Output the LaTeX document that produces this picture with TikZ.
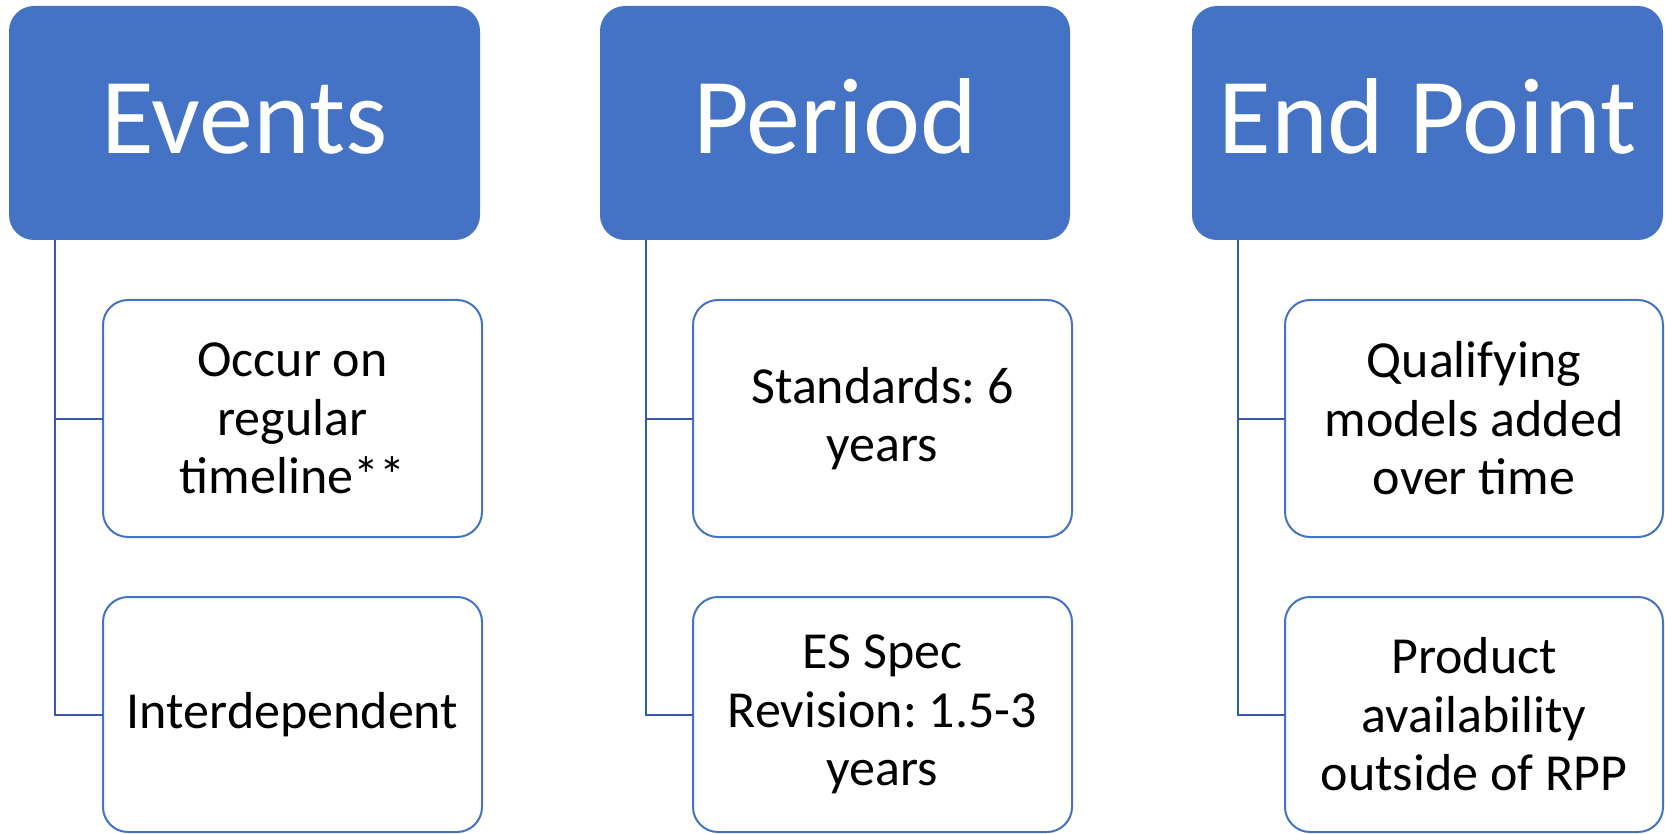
\documentclass[tikz,border=0pt]{standalone}
\usepackage{fontspec}
\setmainfont{Carlito}
\frenchspacing
\definecolor{accent}{HTML}{4472C4}
\definecolor{conn}{RGB}{55,90,165}
\begin{document}
\begin{tikzpicture}[x=1pt,y=-1pt,
  hdr/.style={rectangle, rounded corners=25pt, fill=accent, draw=none, text=white,
    font=\fontsize{108}{126}\selectfont, inner sep=0pt, outer sep=0pt,
    text height=62pt, text depth=0pt, minimum height=234pt},
  child/.style={rectangle, rounded corners=25pt, fill=white, draw=accent, line width=2pt,
    font=\fontsize{52}{58.5}\selectfont, align=center, inner sep=0pt, outer sep=0pt,
    minimum width=379pt},
  connline/.style={draw=conn, line width=2pt}]
\useasboundingbox (0,0) rectangle (1665,834);
% headers
\node[hdr, minimum width=471pt] (ev) at (244.5,123) {Events};
\node[hdr, minimum width=470pt] (pe) at (835,123) {Period};
\node[hdr, minimum width=471pt] (ep) at (1427.5,123) {End Point};
% children
\node[child, minimum height=237pt] (ec1) at (292.5,418.5) {Occur on\\regular\\timeline**};
\node[child, minimum height=235pt] (ec2) at (292.5,714.5) {Interdependent};
\node[child, minimum height=237pt] (pc1) at (882.5,418.5) {Standards: 6\\years};
\node[child, minimum height=235pt] (pc2) at (882.5,714.5) {ES Spec\\Revision: 1.5-3\\years};
\node[child, minimum height=237pt, minimum width=378pt] (xc1) at (1474,418.5) {Qualifying\\models added\\over time};
\node[child, minimum height=235pt, minimum width=378pt] (xc2) at (1474,714.5) {Product\\availability\\outside of RPP};
% connectors
\draw[connline] ([xshift=46pt]ev.south west) |- (ec1.west);
\draw[connline] ([xshift=46pt]ev.south west) |- (ec2.west);
\draw[connline] ([xshift=46pt]pe.south west) |- (pc1.west);
\draw[connline] ([xshift=46pt]pe.south west) |- (pc2.west);
\draw[connline] ([xshift=46pt]ep.south west) |- (xc1.west);
\draw[connline] ([xshift=46pt]ep.south west) |- (xc2.west);
\end{tikzpicture}
\end{document}
